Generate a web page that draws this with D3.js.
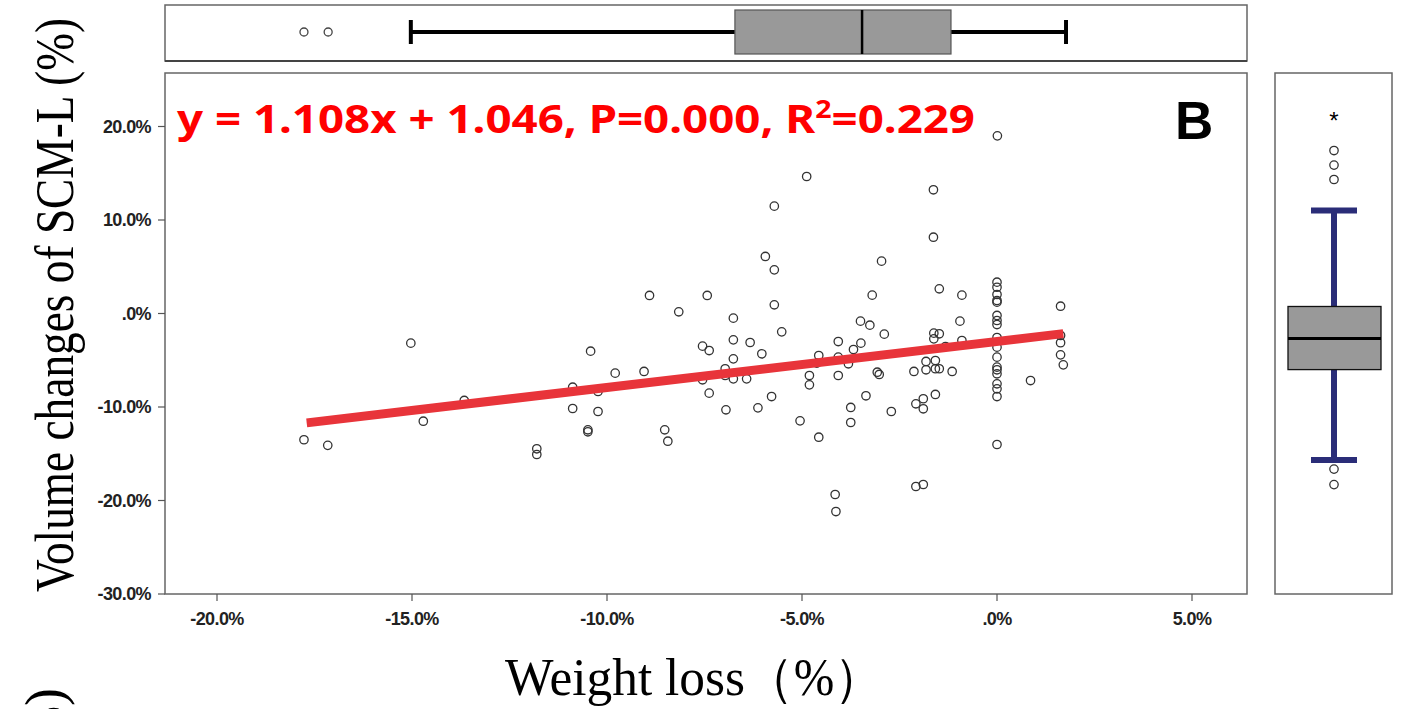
<!DOCTYPE html>
<html>
<head>
  <meta content="text/html;charset=utf-8" http-equiv="Content-Type">
  <title>Weight loss vs volume changes of SCM-L</title>

  <style type="text/css">
    body { margin: 0; background: #fff; }
    #chart text.tick { font: bold 18px "Liberation Sans", Arial, sans-serif; fill: #222; letter-spacing: -0.6px; }
    .frame { fill: none; stroke: #666; stroke-width: 1.5px; }
  </style>

  <script src="https://cdnjs.cloudflare.com/ajax/libs/d3/7.6.1/d3.min.js"></script>
  <script>

    // scatter points: weight loss (%) and volume change (%)
    var weight_loss = [
      -17.77, -17.16, -15.03, -14.71, -13.66, -11.80, -11.80, -10.88, -10.88, -10.42,
      -10.23, -10.23, -10.49, -10.49, -9.79, -9.05,
      -4.88, -1.63, -5.71, -1.63, -5.94, -2.96, -5.71, -8.91, -7.43, -3.20,
      -1.48, -0.90, -8.16, -5.71, -6.76, -5.52, -3.50, -3.26, -2.89, -0.95,
      -1.62, -1.48, -1.62, -1.32, -0.90, -7.55, -7.38, -6.76, -6.33, -6.03,
      -6.76, -4.07, -3.49, -3.68, -4.57, -4.07, -3.81, -4.62, -6.97, -6.97,
      -7.55, -6.76, -6.42, -7.38, -5.78, -6.95, -6.13, -4.81, -4.81, -4.07,
      -3.07, -3.02, -2.13, -1.82, -1.82, -1.58, -1.58, -1.48, -1.15, -3.36,
      -3.75, -3.75, -2.71, -5.05, -4.57, -8.52, -8.44, -2.08, -1.89, -1.89,
      -1.58, -4.15, -4.13, -2.08, -1.89,
      0.01, 0, 0, 0, 0, 0, 0, 0, 0, 0, 0, 0, 0, 0, 0, 0, 0, 0, 0,
      0.86, 1.63, 1.63, 1.63, 1.63, 1.70
    ];
    var volume_change = [
      -13.5, -14.1, -3.17, -11.52, -9.3, -14.47, -15.08, -7.88, -10.16, -4.03,
      -8.34, -10.48, -12.44, -12.65, -6.38, -6.2,
      14.65, 13.23, 11.48, 8.16, 6.10, 5.60, 4.67, 1.93, 1.93, 1.96,
      2.64, 1.96, 0.18, 0.93, -0.50, -1.96, -0.82, -1.25, -2.21, -0.82,
      -2.1, -2.17, -2.71, -3.53, -2.89, -3.49, -3.96, -2.82, -3.10, -4.31,
      -4.85, -3.0, -3.17, -3.85, -4.49, -4.67, -5.38, -5.31, -5.91, -6.63,
      -7.09, -6.99, -6.99, -8.52, -8.88, -10.30, -10.09, -6.63, -7.63, -6.63,
      -6.28, -6.52, -6.20, -5.13, -6.02, -5.03, -5.91, -5.91, -6.20, -8.80,
      -10.05, -11.66, -10.48, -11.48, -13.23, -12.44, -13.66, -9.66, -9.12, -10.19,
      -8.66, -19.36, -21.18, -18.5, -18.29,
      19.0, 3.35, 2.81, 2.03, 1.39, 1.21, -0.21, -0.75, -1.18, -2.57,
      -3.60, -4.67, -5.74, -6.02, -6.45, -7.52, -8.06, -8.88, -14.01,
      -7.17, 0.78, -2.35, -3.13, -4.42, -5.49
    ];

    // fitted line end points (as drawn)
    var fit_x = [-17.7, 1.7];
    var fit_y = [-11.7, -2.15];

    // marginal boxplot of weight loss: [low whisker, q1, median, q3, high whisker]
    var wl_box = [-15.03, -6.72, -3.46, -1.18, 1.77];
    var wl_outliers = [-17.77, -17.15];

    // marginal boxplot of volume change
    var vc_box = [-15.67, -6.0, -2.67, 0.75, 11.02];
    var vc_outliers = [17.43, 15.87, 14.33, -16.64, -18.3];
    var vc_extremes = [21.66];

    var x_ticks = [-20, -15, -10, -5, 0, 5];
    var x_tick_labels = ['-20.0%', '-15.0%', '-10.0%', '-5.0%', '.0%', '5.0%'];
    var y_ticks = [20, 10, 0, -10, -20, -30];
    var y_tick_labels = ['20.0%', '10.0%', '.0%', '-10.0%', '-20.0%', '-30.0%'];

    function main() {

      var svg = d3.select('#chart').
            attr('width', 1401).
            attr('height', 709);

      var x = d3.scaleLinear().domain([-20, 5]).range([217, 1192]);
      var y = d3.scaleLinear().domain([-30, 20]).range([594, 126.5]);

      var left = 165, right = 1247, top = 73, bottom = 594;

      // ---- top box panel ----
      svg.append('rect').attr('class', 'frame').
          attr('x', left).attr('y', 5).attr('width', right - left).attr('height', 56);
      svg.append('line').attr('x1', left).attr('x2', right).attr('y1', 61).attr('y2', 61).
          attr('stroke', '#444').attr('stroke-width', 2);

      var by = 32;
      svg.append('line').attr('x1', x(wl_box[0])).attr('x2', x(wl_box[4])).
          attr('y1', by).attr('y2', by).attr('stroke', '#000').attr('stroke-width', 4);
      [wl_box[0], wl_box[4]].forEach(function(v) {
        svg.append('line').attr('x1', x(v)).attr('x2', x(v)).attr('y1', 20).attr('y2', 44).
            attr('stroke', '#000').attr('stroke-width', 4);
      });
      svg.append('rect').attr('x', x(wl_box[1])).attr('y', 10).
          attr('width', x(wl_box[3]) - x(wl_box[1])).attr('height', 44).
          attr('fill', '#999').attr('stroke', '#555').attr('stroke-width', 1.2);
      svg.append('line').attr('x1', x(wl_box[2])).attr('x2', x(wl_box[2])).
          attr('y1', 10).attr('y2', 54).attr('stroke', '#000').attr('stroke-width', 2.5);
      svg.selectAll('.wl-out').data(wl_outliers).enter().append('circle').
          attr('cx', function(d) { return x(d); }).attr('cy', by).attr('r', 4).
          attr('fill', 'none').attr('stroke', '#444').attr('stroke-width', 1.3);

      // ---- main scatter panel ----
      svg.append('rect').attr('class', 'frame').
          attr('x', left).attr('y', top).attr('width', right - left).attr('height', bottom - top);

      svg.selectAll('.xt').data(x_ticks).enter().append('line').
          attr('x1', function(d) { return x(d); }).attr('x2', function(d) { return x(d); }).
          attr('y1', bottom).attr('y2', bottom + 7).attr('stroke', '#555').attr('stroke-width', 1.2);
      svg.selectAll('.xl').data(x_ticks).enter().append('text').attr('class', 'tick').
          attr('x', function(d) { return x(d); }).attr('y', 625).
          attr('text-anchor', 'middle').
          text(function(d, i) { return x_tick_labels[i]; });

      svg.selectAll('.yt').data(y_ticks).enter().append('line').
          attr('x1', left - 7).attr('x2', left).
          attr('y1', function(d) { return y(d); }).attr('y2', function(d) { return y(d); }).
          attr('stroke', '#555').attr('stroke-width', 1.2);
      svg.selectAll('.yl').data(y_ticks).enter().append('text').attr('class', 'tick').
          attr('x', 151).attr('y', function(d) { return y(d); }).attr('dy', '0.36em').
          attr('text-anchor', 'end').
          text(function(d, i) { return y_tick_labels[i]; });

      svg.selectAll('.pt').data(weight_loss).enter().append('circle').
          attr('cx', function(d) { return x(d); }).
          attr('cy', function(d, i) { return y(volume_change[i]); }).
          attr('r', 4.2).attr('fill', 'none').attr('stroke', '#333').attr('stroke-width', 1.3);

      svg.append('line').
          attr('x1', x(fit_x[0])).attr('y1', y(fit_y[0])).
          attr('x2', x(fit_x[1])).attr('y2', y(fit_y[1])).
          attr('stroke', '#e8343a').attr('stroke-width', 9);

      var eq = svg.append('text').attr('x', 177).attr('y', 133).
          attr('fill', '#f00').
          style('font', 'bold 40px "Noto Sans", "Liberation Sans", sans-serif').
          attr('textLength', 798).attr('lengthAdjust', 'spacingAndGlyphs');
      eq.append('tspan').text('y = 1.108x + 1.046, P=0.000, R');
      eq.append('tspan').attr('dy', -15).style('font-size', '25px').text('2');
      eq.append('tspan').attr('dy', 15).text('=0.229');

      svg.append('text').attr('x', 1175).attr('y', 139).
          style('font', 'bold 53px "Liberation Sans", Arial, sans-serif').
          attr('fill', '#000').text('B');

      // ---- right box panel ----
      var rl = 1275, rr = 1392, cx = 1334;
      svg.append('rect').attr('class', 'frame').
          attr('x', rl).attr('y', top).attr('width', rr - rl).attr('height', bottom - top);

      var navy = '#2a2d78';
      svg.append('line').attr('x1', cx).attr('x2', cx).
          attr('y1', y(vc_box[0])).attr('y2', y(vc_box[4])).
          attr('stroke', navy).attr('stroke-width', 6);
      [vc_box[0], vc_box[4]].forEach(function(v) {
        svg.append('line').attr('x1', cx - 23).attr('x2', cx + 23).
            attr('y1', y(v)).attr('y2', y(v)).attr('stroke', navy).attr('stroke-width', 6);
      });
      svg.append('rect').attr('x', 1288).attr('y', y(vc_box[3])).
          attr('width', 93).attr('height', y(vc_box[1]) - y(vc_box[3])).
          attr('fill', '#999').attr('stroke', '#111').attr('stroke-width', 1.3);
      svg.append('line').attr('x1', 1288).attr('x2', 1381).
          attr('y1', y(vc_box[2])).attr('y2', y(vc_box[2])).
          attr('stroke', '#000').attr('stroke-width', 3);
      svg.selectAll('.vc-out').data(vc_outliers).enter().append('circle').
          attr('cx', cx).attr('cy', function(d) { return y(d); }).attr('r', 4.2).
          attr('fill', 'none').attr('stroke', '#333').attr('stroke-width', 1.3);
      svg.selectAll('.vc-ext').data(vc_extremes).enter().append('text').
          attr('x', cx).attr('y', function(d) { return y(d); }).attr('dy', '0.75em').
          attr('text-anchor', 'middle').
          style('font', '24px "Liberation Sans", Arial, sans-serif').text('*');

      // ---- axis titles ----
      svg.append('text').
          attr('transform', 'translate(73,305) rotate(-90)').
          attr('text-anchor', 'middle').
          attr('textLength', 574).attr('lengthAdjust', 'spacingAndGlyphs').
          style('font', '54px "Liberation Serif", "Times New Roman", serif').
          attr('fill', '#000').
          text('Volume changes of SCM-L (%)');

      svg.append('text').
          attr('x', 505).attr('y', 695).
          attr('textLength', 240).attr('lengthAdjust', 'spacingAndGlyphs').
          style('font', '52px "Liberation Serif", "Times New Roman", serif').
          attr('fill', '#000').
          text('Weight loss');
      svg.append('text').
          attr('x', 745).attr('y', 695).
          attr('textLength', 138).attr('lengthAdjust', 'spacingAndGlyphs').
          style('font', '52px "Liberation Serif", "Times New Roman", serif').
          attr('fill', '#000').
          text('（%）');

      // cut-off title of the next panel
      svg.append('text').
          attr('transform', 'translate(63,688) rotate(-90)').
          attr('text-anchor', 'end').
          style('font', '54px "Liberation Serif", "Times New Roman", serif').
          attr('fill', '#000').
          text('(%)');
    }

  </script>
</head>
<body onload='main()'>

  <svg id="chart"></svg>

</body>
</html>
